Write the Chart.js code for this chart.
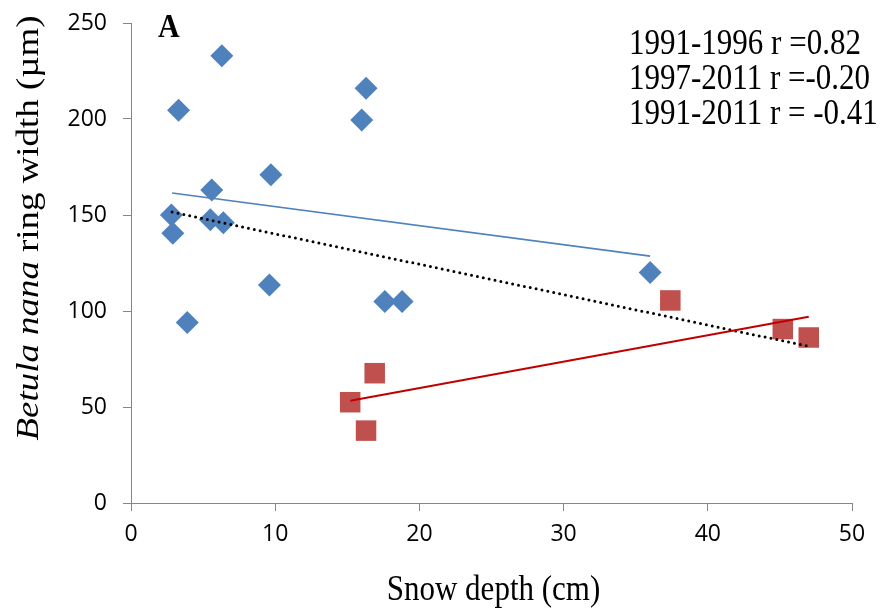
<!DOCTYPE html>
<html>
<head>
<meta charset="utf-8">
<script src="https://cdn.jsdelivr.net/npm/chart.js@4/dist/chart.umd.min.js"></script>
<style>
html,body{margin:0;padding:0;background:#ffffff;}
#wrap{width:884px;height:610px;}
</style>
</head>
<body>
<div id="wrap"><canvas id="c" width="884" height="610"></canvas></div>
<script>
// ---- data ----
const snow9711 = [6.3, 3.3, 16.3, 16.0, 9.7, 5.6, 2.8, 2.9, 5.5, 6.4, 9.6, 3.9, 17.6, 18.8, 36.0];
const ring9711 = [233, 204.5, 216, 199.5, 171, 163, 150, 140.5, 147.5, 146, 113.5, 94, 105, 105, 120];
const snow9196 = [15.2, 16.3, 16.9, 37.4, 45.2, 47.0];
const ring9196 = [52.5, 37.7, 67.6, 105.5, 90.6, 86.2];
const trend9711X = [2.85, 36.0];
const trend9711Y = [161.5, 128.6];
const trend9196X = [15.2, 47.0];
const trend9196Y = [53.2, 97.0];
const trendAllX = [2.85, 47.0];
const trendAllY = [151.5, 81.6];
const xTicks = [0, 10, 20, 30, 40, 50];
const yTicks = [0, 50, 100, 150, 200, 250];
const annotationLines = ["1991-1996 r =0.82", "1997-2011 r =-0.20", "1991-2011 r = -0.41"];
const panelLabel = "A";
const xTitle = "Snow depth (cm)";
const yTitleItalic = "Betula nana";
const yTitleRest = " ring width (\u00b5m)";

const pts = (xs, ys) => xs.map((x, i) => ({x: x, y: ys[i]}));
const SERIF = "'Liberation Serif', 'Times New Roman', serif";
const SANS = "'Open Sans', 'Liberation Sans', sans-serif";
const AXIS_GREY = '#868686';

function stretchedText(ctx, text, x, y, sy) {
  ctx.save();
  ctx.translate(x, y);
  ctx.scale(1, sy);
  ctx.fillText(text, 0, 0);
  ctx.restore();
}

const textPlugin = {
  id: 'texts',
  afterDraw(chart) {
    const ctx = chart.ctx;
    ctx.save();
    ctx.fillStyle = '#000';
    ctx.textBaseline = 'alphabetic';
    // panel label
    ctx.font = "bold 30px " + SERIF;
    ctx.textAlign = 'left';
    stretchedText(ctx, panelLabel, 158, 37, 1.1);
    // correlation annotations
    ctx.font = "31px " + SERIF;
    annotationLines.forEach((t, i) => stretchedText(ctx, t, 629, 54 + i * 35, 1.18));
    // x axis title
    ctx.textAlign = 'center';
    const ca = chart.chartArea;
    stretchedText(ctx, xTitle, (ca.left + ca.right) / 2 + 2, 600, 1.15);
    ctx.textAlign = 'left';
    // y axis title with italic species name
    ctx.translate(38, 228);
    ctx.rotate(-Math.PI / 2);
    ctx.scale(1.19, 1);
    ctx.font = "italic 31px " + SERIF;
    const w1 = ctx.measureText(yTitleItalic).width;
    ctx.font = "31px " + SERIF;
    const w2 = ctx.measureText(yTitleRest).width;
    const start = -(w1 + w2) / 2;
    ctx.font = "italic 31px " + SERIF;
    ctx.fillText(yTitleItalic, start, 0);
    ctx.font = "31px " + SERIF;
    ctx.fillText(yTitleRest, start + w1, 0);
    ctx.restore();
  }
};

new Chart(document.getElementById('c'), {
  data: {
    datasets: [
      {type: 'line', label: '1997-2011 trend', data: pts(trend9711X, trend9711Y), borderColor: '#4F81BD', borderWidth: 1.6, pointRadius: 0, fill: false, order: 0},
      {type: 'line', label: '1991-1996 trend', data: pts(trend9196X, trend9196Y), borderColor: '#C00000', borderWidth: 2, pointRadius: 0, fill: false, order: 0},
      {type: 'line', label: '1991-2011 trend', data: pts(trendAllX, trendAllY), borderColor: '#000000', borderWidth: 3, borderDash: [0, 6], borderCapStyle: 'round', pointRadius: 0, fill: false, order: 0},
      {type: 'scatter', label: '1997-2011', data: pts(snow9711, ring9711), pointStyle: 'rectRot', pointRadius: 11.5, backgroundColor: '#4F81BD', borderColor: '#4F81BD', borderWidth: 0, order: 1},
      {type: 'scatter', label: '1991-1996', data: pts(snow9196, ring9196), pointStyle: 'rect', pointRadius: 14.5, backgroundColor: '#C0504D', borderColor: '#C0504D', borderWidth: 0, order: 1}
    ]
  },
  options: {
    responsive: false,
    animation: false,
    events: [],
    layout: {padding: {left: 0, top: 23, right: 32, bottom: 0}},
    plugins: {legend: {display: false}, tooltip: {enabled: false}},
    scales: {
      x: {
        type: 'linear', position: 'bottom', min: 0, max: 50,
        afterBuildTicks: s => { s.ticks = xTicks.map(v => ({value: v})); },
        afterFit: s => { s.height = 107; s.paddingLeft = 0; s.paddingRight = 0; },
        grid: {display: true, drawOnChartArea: false, drawTicks: true, tickLength: 8, color: AXIS_GREY},
        border: {display: true, color: AXIS_GREY, width: 1},
        ticks: {font: {family: SANS, size: 23}, color: '#000', padding: 10, maxRotation: 0},
        title: {display: false}
      },
      y: {
        type: 'linear', position: 'left', min: 0, max: 250,
        afterBuildTicks: s => { s.ticks = yTicks.map(v => ({value: v})); },
        afterFit: s => { s.width = 131; s.paddingTop = 0; s.paddingBottom = 0; },
        grid: {display: true, drawOnChartArea: false, drawTicks: true, tickLength: 8, color: AXIS_GREY},
        border: {display: true, color: AXIS_GREY, width: 1},
        ticks: {font: {family: SANS, size: 23}, color: '#000', padding: 16},
        title: {display: false}
      }
    }
  },
  plugins: [textPlugin]
});
</script>
</body>
</html>
